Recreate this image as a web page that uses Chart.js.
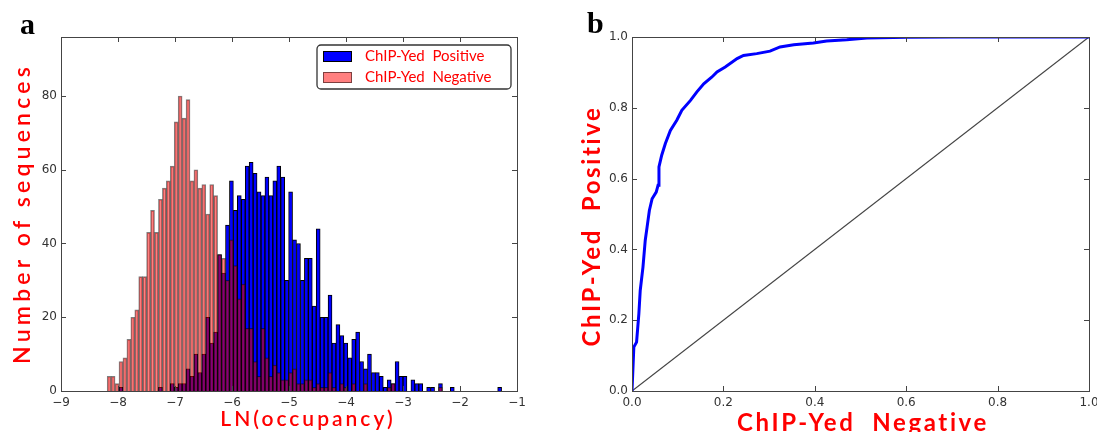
<!DOCTYPE html>
<html>
<head>
<meta charset="utf-8">
<script src="https://cdn.jsdelivr.net/npm/chart.js@4.4.0/dist/chart.umd.min.js"></script>
<style>
  body { margin: 0; background: #fff; }
  #wrap { position: relative; width: 1097px; height: 432px; overflow: hidden; }
  canvas { position: absolute; top: 0; }
  .lbl { position: absolute; color: #ff0000; font-family: Lato, 'Open Sans', sans-serif; white-space: pre; line-height: 1; text-align: center; }
  .rot { transform: rotate(-90deg); }
  .panel { position: absolute; font-family: 'Liberation Serif', 'DejaVu Serif', serif; font-weight: bold; font-size: 30px; line-height: 1; color: #000; }
</style>
</head>
<body>
<div id="wrap">
  <canvas id="histChart" width="560" height="432" style="left:0"></canvas>
  <canvas id="rocChart" width="537" height="432" style="left:560px"></canvas>
  <div class="panel" style="left:20px; top:9px">a</div>
  <div class="panel" style="left:587px; top:8px">b</div>
  <div class="lbl" style="left:158px; top:407px; width:300px; font-size:21px; letter-spacing:3px; font-weight:600">LN(occupancy)</div>
  <div class="lbl rot" style="left:-139px; top:202px; width:320px; height:23px; font-size:23px; letter-spacing:4.2px; font-weight:600">Number of sequences</div>
  <div class="lbl" style="left:713px; top:410px; width:300px; font-size:24px; letter-spacing:2.6px; font-weight:bold">ChIP-Yed  Negative</div>
  <div class="lbl rot" style="left:451px; top:214px; width:280px; height:24px; font-size:24px; letter-spacing:2.6px; font-weight:bold">ChIP-Yed  Positive</div>
</div>
<script>
// histogramme : 100 classes communes aux deux séries
const binStart = -8.19;
const binWidth = 0.0692;
const posCounts = [
  0, 0, 0, 1, 0, 0, 0, 0, 0, 0,
  0, 0, 0, 1, 0, 0, 2, 1, 2, 2,
  6, 4, 10, 5, 10, 20, 13, 16, 37, 32,
  45, 57, 49, 53, 52, 61, 62, 59, 54, 53,
  58, 53, 57, 61, 58, 30, 54, 41, 40, 30,
  36, 36, 23, 44, 20, 20, 26, 13, 18, 15,
  13, 9, 14, 16, 8, 6, 10, 5, 5, 4,
  1, 3, 2, 8, 4, 4, 0, 3, 2, 2,
  0, 1, 1, 0, 2, 0, 0, 1, 0, 0,
  0, 0, 0, 0, 0, 0, 0, 0, 0, 1
];
const negCounts = [
  4, 4, 2, 8, 9, 14, 20, 22, 31, 31,
  43, 49, 43, 52, 55, 57, 61, 73, 80, 74,
  79, 57, 60, 55, 56, 48, 56, 53, 37, 36,
  30, 41, 34, 25, 29, 17, 17, 8, 4, 17,
  9, 4, 7, 5, 3, 3, 5, 6, 2, 2,
  3, 3, 1, 2, 1, 1, 5, 1, 0, 2,
  1, 0, 2, 0, 0, 2, 0, 0, 0, 0,
  0, 1, 2, 0, 0, 0, 0, 0, 0, 0,
  0, 0, 0, 0, 1, 0, 0, 0, 0, 0,
  0, 0, 0, 0, 0, 0, 0, 0, 0, 0
];
const histXTicks = [-9, -8, -7, -6, -5, -4, -3, -2, -1];
const histYTicks = [0, 20, 40, 60, 80];

// courbe ROC
const rocFpr = [0, 0.004, 0.010, 0.015, 0.018, 0.024, 0.029, 0.033, 0.038, 0.044,
  0.053, 0.057, 0.059, 0.065, 0.073, 0.084, 0.098, 0.109, 0.128, 0.142,
  0.157, 0.175, 0.186, 0.204, 0.230, 0.244, 0.273, 0.302, 0.324, 0.354,
  0.397, 0.426, 0.470, 0.514, 0.601, 0.703, 1.0];
const rocTpr = [0, 0.124, 0.138, 0.218, 0.284, 0.350, 0.426, 0.463, 0.510, 0.543,
  0.562, 0.581, 0.633, 0.666, 0.699, 0.736, 0.765, 0.793, 0.821, 0.845,
  0.868, 0.887, 0.901, 0.915, 0.939, 0.948, 0.953, 0.960, 0.972, 0.978,
  0.983, 0.989, 0.992, 0.997, 0.999, 1.0, 1.0];
const diagX = [0, 1];
const diagY = [0, 1];
const rocTicks = [0, 0.2, 0.4, 0.6, 0.8, 1.0];

const binCenters = posCounts.map((_, i) => +(binStart + (i + 0.5) * binWidth).toFixed(4));
const minus = v => String(v).replace('-', '\u2212');
const tickFont = { family: 'DejaVu Sans', size: 12 };

// pas de marge auto pour les étiquettes en bout d'axe
const noPad = s => { s.paddingLeft = 0; s.paddingRight = 0; s.paddingTop = 0; s.paddingBottom = 0; };

// cadre + graduations vers l'intérieur (style matplotlib)
const frameTicks = {
  id: 'frameTicks',
  afterDatasetsDraw(chart) {
    const { ctx, chartArea: a } = chart;
    const xs = chart.scales.x, ys = chart.scales.y;
    ctx.save();
    ctx.strokeStyle = '#444';
    ctx.lineWidth = 1;
    ctx.beginPath();
    xs.ticks.forEach(t => {
      const px = Math.round(xs.getPixelForValue(t.value)) + 0.5;
      ctx.moveTo(px, a.bottom); ctx.lineTo(px, a.bottom - 5);
      ctx.moveTo(px, a.top); ctx.lineTo(px, a.top + 5);
    });
    ys.ticks.forEach(t => {
      const py = Math.round(ys.getPixelForValue(t.value)) + 0.5;
      ctx.moveTo(a.left, py); ctx.lineTo(a.left + 5, py);
      ctx.moveTo(a.right, py); ctx.lineTo(a.right - 5, py);
    });
    ctx.stroke();
    ctx.strokeRect(Math.round(a.left) + 0.5, Math.round(a.top) + 0.5,
      Math.round(a.right - a.left), Math.round(a.bottom - a.top));
    ctx.restore();
  }
};

// légende dans la zone du graphe, en haut à droite
const boxLegend = {
  id: 'boxLegend',
  afterDraw(chart) {
    const { ctx, chartArea: a } = chart;
    const w = 194, h = 44;
    const x = a.right - 6 - w, y = a.top + 8;
    ctx.save();
    ctx.fillStyle = '#fff';
    ctx.strokeStyle = '#333';
    ctx.lineWidth = 1.3;
    ctx.beginPath();
    ctx.roundRect(x, y, w, h, 4);
    ctx.fill();
    ctx.stroke();
    ctx.font = "15px Lato, 'Open Sans', sans-serif";
    ctx.textBaseline = 'middle';
    chart.data.datasets.forEach((ds, i) => {
      const cy = y + 11.5 + i * 21;
      ctx.fillStyle = ds.backgroundColor;
      ctx.fillRect(x + 6, cy - 5.5, 29, 11);
      ctx.strokeStyle = ds.borderColor;
      ctx.lineWidth = 1;
      ctx.strokeRect(x + 6.5, cy - 5, 28, 10);
      ctx.fillStyle = '#ff0000';
      ctx.fillText(ds.label, x + 48, cy);
    });
    ctx.restore();
  }
};

new Chart(document.getElementById('histChart'), {
  type: 'bar',
  data: {
    datasets: [{
      label: 'ChIP-Yed  Positive',
      data: binCenters.map((x, i) => ({ x: x, y: posCounts[i] })),
      backgroundColor: '#0000ff',
      borderColor: '#000000',
      borderWidth: 1,
      order: 1
    }, {
      label: 'ChIP-Yed  Negative',
      data: binCenters.map((x, i) => ({ x: x, y: negCounts[i] })),
      backgroundColor: 'rgba(255,0,0,0.5)',
      borderColor: 'rgba(0,0,0,0.5)',
      borderWidth: 1,
      order: 0
    }]
  },
  options: {
    responsive: false,
    animation: false,
    layout: { padding: { top: 37, right: 43, left: 0, bottom: 0 } },
    datasets: { bar: { grouped: false, barPercentage: 1, categoryPercentage: 1 } },
    plugins: { legend: { display: false }, tooltip: { enabled: false } },
    scales: {
      x: {
        type: 'linear', min: -9, max: -1, offset: false,
        grid: { display: false, drawTicks: false, offset: false },
        border: { display: false },
        afterBuildTicks: s => { s.ticks = histXTicks.map(v => ({ value: v })); },
        afterFit: s => { s.height = 41; noPad(s); },
        ticks: { color: '#333', font: tickFont, padding: 5, maxRotation: 0, autoSkip: false, callback: v => minus(v) }
      },
      y: {
        min: 0, max: 96,
        grid: { display: false, drawTicks: false },
        border: { display: false },
        afterBuildTicks: s => { s.ticks = histYTicks.map(v => ({ value: v })); },
        afterFit: s => { s.width = 61; noPad(s); },
        ticks: { color: '#333', font: tickFont, padding: 4, autoSkip: false }
      }
    }
  },
  plugins: [frameTicks, boxLegend]
});

new Chart(document.getElementById('rocChart'), {
  type: 'scatter',
  data: {
    datasets: [{
      label: 'ROC',
      data: rocFpr.map((x, i) => ({ x: x, y: rocTpr[i] })),
      showLine: true,
      borderColor: '#0000ff',
      borderWidth: 3,
      pointRadius: 0,
      tension: 0
    }, {
      label: 'diagonale',
      data: diagX.map((x, i) => ({ x: x, y: diagY[i] })),
      showLine: true,
      borderColor: '#444',
      borderWidth: 1.2,
      pointRadius: 0
    }]
  },
  options: {
    responsive: false,
    animation: false,
    layout: { padding: { top: 37, right: 8, left: 0, bottom: 0 } },
    plugins: { legend: { display: false }, tooltip: { enabled: false } },
    scales: {
      x: {
        type: 'linear', min: 0, max: 1,
        grid: { display: false, drawTicks: false },
        border: { display: false },
        afterBuildTicks: s => { s.ticks = rocTicks.map(v => ({ value: v })); },
        afterFit: s => { s.height = 41; noPad(s); },
        ticks: { color: '#333', font: tickFont, padding: 5, maxRotation: 0, autoSkip: false, callback: v => v.toFixed(1) }
      },
      y: {
        type: 'linear', min: 0, max: 1,
        grid: { display: false, drawTicks: false },
        border: { display: false },
        afterBuildTicks: s => { s.ticks = rocTicks.map(v => ({ value: v })); },
        afterFit: s => { s.width = 72; noPad(s); },
        ticks: { color: '#333', font: tickFont, padding: 4, autoSkip: false, callback: v => v.toFixed(1) }
      }
    }
  },
  plugins: [frameTicks]
});
</script>
</body>
</html>
